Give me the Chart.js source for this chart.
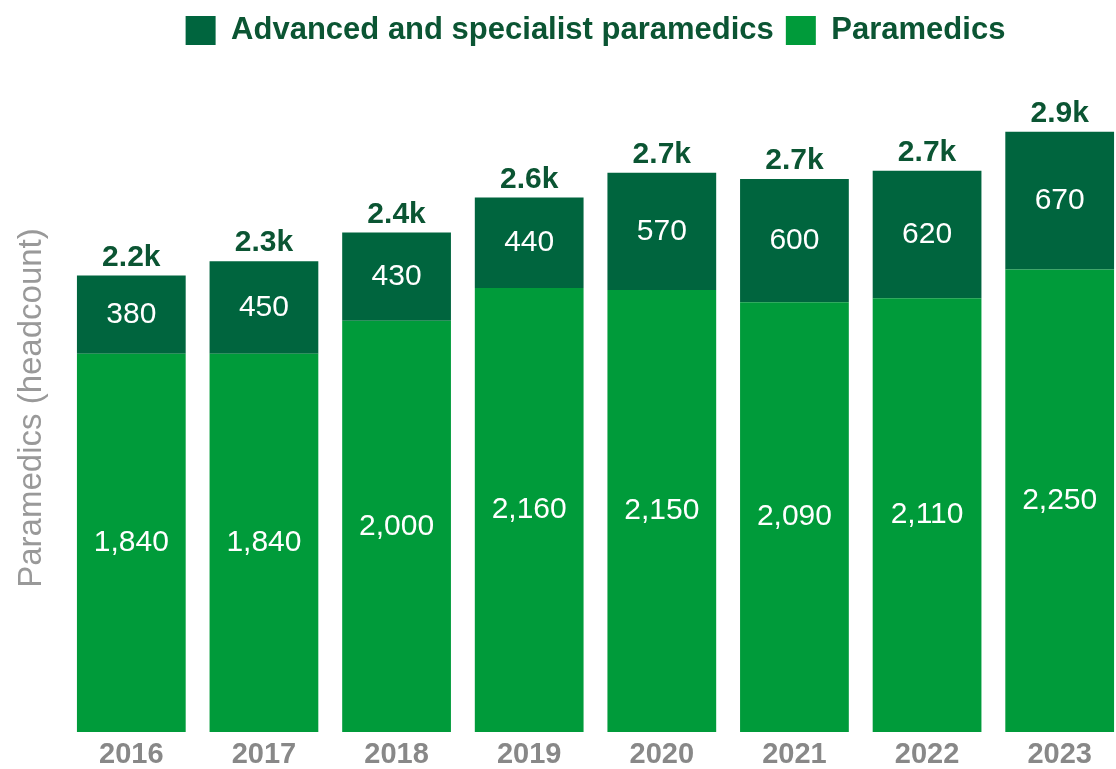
<!DOCTYPE html>
<html>
<head>
<meta charset="utf-8">
<script src="https://cdn.jsdelivr.net/npm/chart.js@4"></script>
<style>
  html, body { margin: 0; padding: 0; background: #fff; overflow: hidden; }
  #wrap { width: 1126px; height: 769px; }
</style>
</head>
<body>
<div id="wrap"><canvas id="paraChart"></canvas></div>
<script>
const years = ['2016', '2017', '2018', '2019', '2020', '2021', '2022', '2023'];
const paramedics = [1840, 1840, 2000, 2160, 2150, 2090, 2110, 2250];
const advanced = [380, 450, 430, 440, 570, 600, 620, 670];
const totalLabels = ['2.2k', '2.3k', '2.4k', '2.6k', '2.7k', '2.7k', '2.7k', '2.9k'];

const DARK = '#00653e';
const LIGHT = '#009b3a';
const FONT = '"Liberation Sans", Arial, sans-serif';

// white numbers inside each segment, bold total above each stack
const barLabels = {
  id: 'barLabels',
  afterDatasetsDraw(chart) {
    const ctx = chart.ctx;
    ctx.save();
    ctx.textAlign = 'center';
    chart.data.datasets.forEach((ds, di) => {
      chart.getDatasetMeta(di).data.forEach((bar, i) => {
        const mid = (bar.y + bar.base) / 2;
        ctx.fillStyle = '#ffffff';
        ctx.font = '30px ' + FONT;
        ctx.textBaseline = 'middle';
        ctx.fillText(ds.data[i].toLocaleString('en-GB'), bar.x, mid);
      });
    });
    const top = chart.getDatasetMeta(chart.data.datasets.length - 1).data;
    ctx.fillStyle = '#0b5533';
    ctx.font = 'bold 30px ' + FONT;
    ctx.textBaseline = 'bottom';
    top.forEach((bar, i) => ctx.fillText(totalLabels[i], bar.x, bar.y - 3));
    ctx.restore();
  }
};

new Chart(document.getElementById('paraChart'), {
  type: 'bar',
  data: {
    labels: years,
    datasets: [
      { label: 'Paramedics', data: paramedics, backgroundColor: LIGHT },
      { label: 'Advanced and specialist paramedics', data: advanced, backgroundColor: DARK }
    ]
  },
  options: {
    responsive: true,
    maintainAspectRatio: false,
    animation: false,
    datasets: { bar: { barPercentage: 0.82, categoryPercentage: 1 } },
    layout: { padding: { top: 3 } },
    plugins: {
      tooltip: { enabled: false },
      legend: {
        position: 'top',
        fullSize: false,
        reverse: true,
        labels: {
          boxWidth: 30,
          boxHeight: 29,
          padding: 12,
          color: '#0b5533',
          font: { family: FONT, size: 31, weight: 'bold' }
        }
      },
      // empty spacer between legend and plot
      subtitle: {
        display: true,
        text: ' ',
        weight: 500,
        font: { size: 10 },
        padding: { top: 0, bottom: 16 }
      }
    },
    scales: {
      x: {
        stacked: true,
        grid: { display: false },
        border: { display: false },
        ticks: { color: '#888888', padding: -2, font: { family: FONT, size: 29, weight: 'bold' } },
        afterFit(scale) { scale.height = 37; }
      },
      y: {
        stacked: true,
        min: 0,
        max: 3152,
        grid: { display: false },
        border: { display: false },
        ticks: { display: false },
        title: {
          display: true,
          text: 'Paramedics (headcount)',
          color: '#999999',
          padding: { top: 12, bottom: 0 },
          font: { family: FONT, size: 33 }
        },
        afterFit(scale) { scale.width = 65; }
      }
    }
  },
  plugins: [barLabels]
});
</script>
</body>
</html>
